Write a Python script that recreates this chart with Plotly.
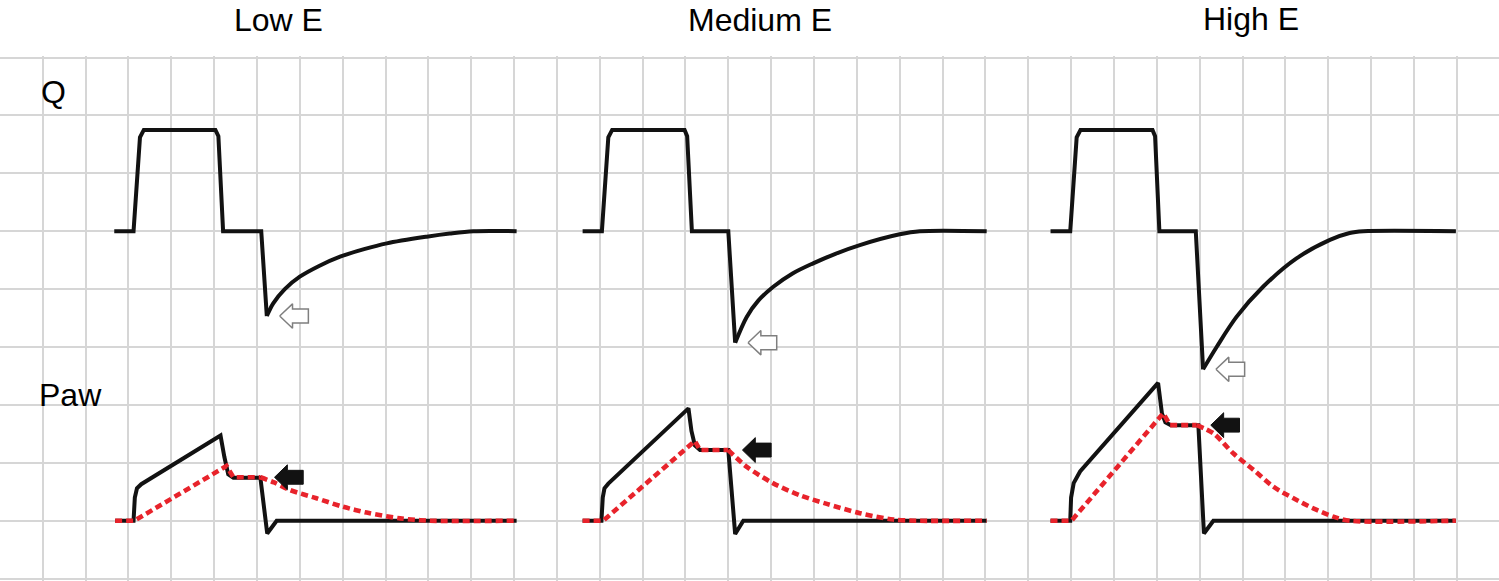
import plotly.graph_objects as go

# ---------------- data (grid units: 1 x-unit = 1 grid column, 1 y-unit = 1 grid row) -------------
panel_titles = ["Low E", "Medium E", "High E"]
title_x = [5.51, 16.74, 28.19]
title_y = [1.0686, 1.0686, 1.0705]   # paper coords (above plotting grid)

row_labels = ["Q", "Paw"]
row_label_x = [0.245, 0.649]
row_label_y = [8.40, 3.17]

# Flow (Q) waveforms
q_low_x = [1.67, 2.12, 2.27, 2.36, 4.03, 4.10, 4.21, 5.10, 5.23, 5.38, 5.65, 6.0, 6.45, 6.94, 7.5, 8.03, 8.96, 9.5, 10.05, 11.06]
q_low_y = [6.0, 6.0, 7.62, 7.75, 7.75, 7.64, 6.0, 6.0, 4.535, 4.755, 5.0, 5.214, 5.40, 5.56, 5.69, 5.79, 5.905, 5.96, 6.0, 6.0]

q_med_x = [12.60, 13.05, 13.20, 13.29, 14.98, 15.04, 15.15, 16.00, 16.16, 16.43, 16.70, 17.05, 17.5, 17.98, 18.5, 19.07, 20.0, 20.47, 22.03]
q_med_y = [6.0, 6.0, 7.62, 7.75, 7.75, 7.64, 6.0, 6.0, 4.074, 4.52, 4.80, 5.04, 5.27, 5.445, 5.61, 5.76, 5.946, 6.0, 6.0]

q_high_x = [23.52, 23.98, 24.13, 24.22, 25.90, 25.96, 26.06, 26.91, 27.08, 27.4, 27.86, 28.48, 29.26, 30.04, 30.5, 30.82, 32.98]
q_high_y = [6.0, 6.0, 7.62, 7.75, 7.75, 7.64, 6.0, 6.0, 3.615, 4.005, 4.52, 5.04, 5.53, 5.85, 5.97, 6.0, 6.0]

# Airway pressure (Paw) waveforms - solid black
paw_low_x = [1.69, 2.12, 2.15, 2.20, 2.30, 4.15, 4.24, 4.33, 4.45, 5.08, 5.24, 5.46, 11.06]
paw_low_y = [1.0, 1.0, 1.40, 1.56, 1.63, 2.47, 2.10, 1.80, 1.74, 1.74, 0.78, 1.0, 1.0]

paw_med_x = [12.60, 13.04, 13.07, 13.11, 13.20, 15.07, 15.14, 15.22, 15.34, 16.0, 16.16, 16.35, 22.03]
paw_med_y = [1.0, 1.0, 1.40, 1.56, 1.64, 2.94, 2.55, 2.30, 2.22, 2.22, 0.77, 1.0, 1.0]

paw_high_x = [23.52, 23.98, 24.0, 24.06, 24.21, 26.03, 26.12, 26.2, 26.33, 26.97, 27.1, 27.32, 32.98]
paw_high_y = [1.0, 1.0, 1.40, 1.65, 1.85, 3.38, 2.85, 2.70, 2.65, 2.65, 0.78, 1.0, 1.0]

# Alveolar pressure - red dotted
palv_low_x = [1.69, 2.14, 4.29, 4.45, 5.08, 5.40, 5.77, 6.39, 7.01, 7.56, 8.34, 9.04, 11.06]
palv_low_y = [1.0, 1.0, 1.945, 1.75, 1.75, 1.66, 1.53, 1.387, 1.24, 1.14, 1.04, 1.0, 1.0]

palv_med_x = [12.60, 13.08, 15.22, 15.34, 16.0, 16.43, 17.05, 17.67, 18.3, 19.07, 19.85, 20.4, 22.03]
palv_med_y = [1.0, 1.0, 2.377, 2.22, 2.22, 1.93, 1.645, 1.44, 1.29, 1.13, 1.02, 1.0, 1.0]

palv_high_x = [23.52, 24.01, 26.15, 26.31, 26.93, 27.32, 27.79, 28.26, 28.72, 29.19, 29.65, 30.12, 30.5, 32.98]
palv_high_y = [1.0, 1.0, 2.855, 2.65, 2.65, 2.51, 2.16, 1.876, 1.587, 1.387, 1.214, 1.07, 1.0, 1.0]

q_sets = [(q_low_x, q_low_y), (q_med_x, q_med_y), (q_high_x, q_high_y)]
paw_sets = [(paw_low_x, paw_low_y), (paw_med_x, paw_med_y), (paw_high_x, paw_high_y)]
palv_sets = [(palv_low_x, palv_low_y), (palv_med_x, palv_med_y), (palv_high_x, palv_high_y)]
PLATEAU_END = 4   # index in the red series where expiration (decay) begins

# ---------------- figure ----------------
BLACK = "#121212"
RED = "#e8232b"
LW = 4.0
fig = go.Figure()


def arrow_poly(tx, ty, length=0.67, head=0.30, hh=0.21, sh=0.12):
    xs = [tx, tx + head, tx + head, tx + length, tx + length, tx + head, tx + head, tx]
    ys = [ty, ty + hh, ty + sh, ty + sh, ty - sh, ty - sh, ty - hh, ty]
    return xs, ys


# Flow: sharp segments up to the expiratory trough, smooth decay after it
for (qx, qy) in q_sets:
    i = qy.index(min(qy))
    fig.add_trace(go.Scatter(x=qx[:i + 1], y=qy[:i + 1], mode="lines",
                             line=dict(color=BLACK, width=LW), hoverinfo="skip"))
    fig.add_trace(go.Scatter(x=qx[i:], y=qy[i:], mode="lines",
                             line=dict(color=BLACK, width=LW, shape="spline", smoothing=0.9),
                             hoverinfo="skip"))
for (px, py) in paw_sets:
    fig.add_trace(go.Scatter(x=px, y=py, mode="lines",
                             line=dict(color=BLACK, width=LW), hoverinfo="skip"))
for (rx, ry) in palv_sets:
    k = PLATEAU_END
    fig.add_trace(go.Scatter(x=rx[:k + 1], y=ry[:k + 1], mode="lines",
                             line=dict(color=RED, width=4.6, dash="7px,4px"), hoverinfo="skip"))
    fig.add_trace(go.Scatter(x=rx[k:], y=ry[k:], mode="lines",
                             line=dict(color=RED, width=4.6, dash="7px,4px", shape="spline",
                                       smoothing=0.8), hoverinfo="skip"))

# hollow arrows at Q troughs
for (qx, qy) in q_sets:
    i = qy.index(min(qy))
    ax, ay = arrow_poly(qx[i] + 0.30, qy[i])
    fig.add_trace(go.Scatter(x=ax, y=ay, mode="lines", fill="toself", fillcolor="white",
                             line=dict(color="#7f7f7f", width=1.5), hoverinfo="skip"))

# filled arrows at end-inspiratory plateau
for (rx, ry) in palv_sets:
    k = PLATEAU_END
    ax, ay = arrow_poly(rx[k] + 0.33, ry[k], hh=0.215, sh=0.12)
    fig.add_trace(go.Scatter(x=ax, y=ay, mode="lines", fill="toself", fillcolor=BLACK,
                             line=dict(color=BLACK, width=1), hoverinfo="skip"))

FONT = "Liberation Sans, Arial, sans-serif"
for t, x, y in zip(panel_titles, title_x, title_y):
    fig.add_annotation(text=t, x=x, y=y, xref="x", yref="paper", showarrow=False,
                       xanchor="center", yanchor="middle",
                       font=dict(family=FONT, size=32, color="black"))
for t, x, y in zip(row_labels, row_label_x, row_label_y):
    fig.add_annotation(text=t, x=x, y=y, xref="x", yref="y", showarrow=False,
                       xanchor="center", yanchor="middle",
                       font=dict(family=FONT, size=32, color="black"))

axis_common = dict(showgrid=True, gridcolor="#d6d6d6", gridwidth=2, dtick=1, tick0=0,
                   showticklabels=False, ticks="", zeroline=False, showline=False,
                   fixedrange=True)
fig.update_xaxes(range=[-0.9965, 33.986], **axis_common)
fig.update_yaxes(range=[-0.0415, 9.026], **axis_common)

fig.update_layout(width=1499, height=581, margin=dict(l=0, r=0, t=56, b=0, pad=0),
                  paper_bgcolor="white", plot_bgcolor="white", showlegend=False)

fig.write_html("out.html", config={"displayModeBar": False},
               post_script="document.body.style.margin='0';document.body.style.overflow='hidden';")
